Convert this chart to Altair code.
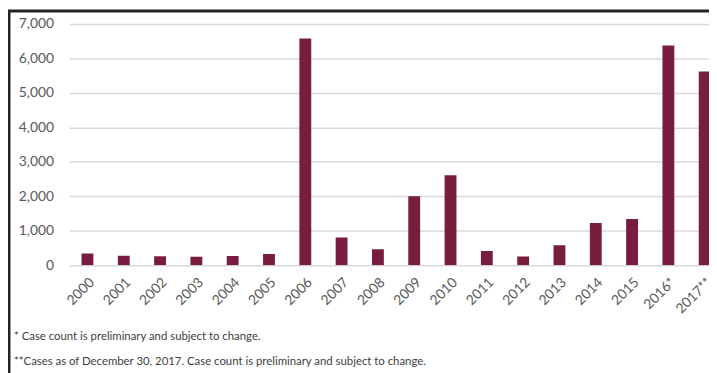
import altair as alt
import pandas as pd

years = ["2000", "2001", "2002", "2003", "2004", "2005", "2006", "2007", "2008",
         "2009", "2010", "2011", "2012", "2013", "2014", "2015", "2016*", "2017**"]
cases = [340, 270, 260, 245, 265, 320, 6580, 800, 460,
         2000, 2610, 410, 250, 580, 1225, 1340, 6370, 5620]
y_ticks = [0, 1000, 2000, 3000, 4000, 5000, 6000, 7000]
footnotes = ["* Case count is preliminary and subject to change.",
             "**Cases as of December 30, 2017. Case count is preliminary and subject to change."]

df = pd.DataFrame({"year": years, "cases": cases})

FONT = "Lato"
W, H = 647, 244

bars = alt.Chart(df).mark_bar(color="#781d3f", size=12, clip=True).encode(
    x=alt.X("year:N", sort=years, title=None,
            scale=alt.Scale(range=[0, 661], paddingInner=0, paddingOuter=0),
            axis=alt.Axis(labelAngle=-45, labelFont=FONT, labelFontSize=14,
                          labelColor="#595959", ticks=False, domain=False,
                          labelPadding=10, grid=False)),
    y=alt.Y("cases:Q", title=None,
            scale=alt.Scale(domain=[0, 7000], nice=False),
            axis=alt.Axis(values=y_ticks, format=",d", labelFont=FONT,
                          labelFontSize=14, labelColor="#595959", ticks=False,
                          domain=False, labelPadding=16, gridColor="#d9d9d9",
                          gridWidth=1.5)),
)

fn1 = alt.Chart(pd.DataFrame({"t": [footnotes[0]]})).mark_text(
    align="left", baseline="middle", font=FONT, fontSize=11.5, color="#404040"
).encode(text="t:N", x=alt.value(-56), y=alt.value(317))

fn2 = alt.Chart(pd.DataFrame({"t": [footnotes[1]]})).mark_text(
    align="left", baseline="middle", font=FONT, fontSize=11.5, color="#404040"
).encode(text="t:N", x=alt.value(-56), y=alt.value(342))

border_left = alt.Chart(pd.DataFrame({"a": [0]})).mark_rule(
    color="#222222", strokeWidth=3
).encode(x=alt.value(-61), y=alt.value(-14), y2=alt.value(360))

border_top = alt.Chart(pd.DataFrame({"a": [0]})).mark_rule(
    color="#222222", strokeWidth=3
).encode(x=alt.value(-62), x2=alt.value(660), y=alt.value(-13))

chart = alt.layer(bars, fn1, fn2, border_left, border_top).properties(
    width=W, height=H,
    autosize=alt.AutoSizeParams(type="none"),
    padding={"left": 62, "top": 14, "right": 0, "bottom": 107},
).configure_view(stroke=None)

chart.save("out.html", embed_options={"renderer": "svg", "actions": False})
